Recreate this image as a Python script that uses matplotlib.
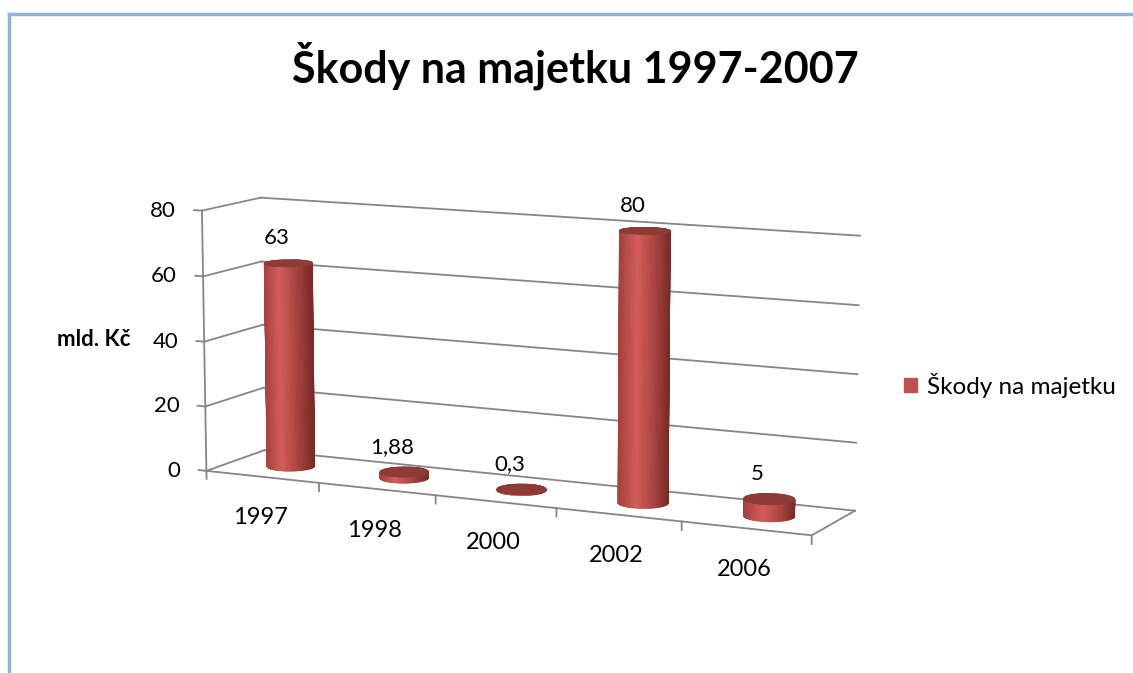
import numpy as np
import matplotlib
matplotlib.use("Agg")
import matplotlib.pyplot as plt
from matplotlib.patches import Rectangle
from matplotlib.lines import Line2D
from mpl_toolkits.mplot3d import proj3d

# ---- data ----
categories = ["1997", "1998", "2000", "2002", "2006"]
values = [63, 1.88, 0.3, 80, 5]
value_labels = ["63", "1,88", "0,3", "80", "5"]
z_ticks = [0, 20, 40, 60, 80]
series_name = "Škody na majetku"
title_text = "Škody na majetku 1997-2007"
y_label = "mld. Kč"

FONT = "Lato"
plt.rcParams['font.family'] = [FONT, 'DejaVu Sans']

W, H = 1133, 673
fig = plt.figure(figsize=(W / 100, H / 100), dpi=100)
fig.patch.set_facecolor("white")

# slide border (light blue)
fig.add_artist(Line2D([9 / W, 1], [1 - 13.5 / H, 1 - 13.5 / H], color="#95B3D7", lw=2.5))
fig.add_artist(Line2D([9 / W, 9 / W], [0, 1 - 13.5 / H], color="#95B3D7", lw=2.5))

# square 3D axes centred on the plot box
S = 1000
cx, cy = 508, H - 371
ax = fig.add_axes([(cx - S / 2) / W, (cy - S / 2) / H, S / W, S / H], projection="3d")
ax.patch.set_alpha(0)
ax.set_proj_type("persp", focal_length=0.6)
azim, elev = -64, 10
ax.view_init(elev=elev, azim=azim)
ax.set_axis_off()
ax.computed_zorder = False

n = len(categories)
x0, x1 = -0.5, n - 0.5
y0, y1 = 0.0, 0.88
yc = 0.44
z0, z1 = 0, max(z_ticks)
ax.set_xlim(x0, x1)
ax.set_ylim(y0, y1)
ax.set_zlim(z0, z1)
ax.set_box_aspect((x1 - x0, y1 - y0, 2.03), zoom=0.71)

grid_c = "#868686"
lw = 1.3
for z in z_ticks:
    ax.plot([x0, x0], [y0, y1], [z, z], color=grid_c, lw=lw, zorder=1)
    ax.plot([x0, x1], [y1, y1], [z, z], color=grid_c, lw=lw, zorder=1)
    ax.plot([x0, x0 - 0.07], [y0, y0], [z, z], color=grid_c, lw=lw, zorder=1)
ax.plot([x0, x0], [y0, y0], [z0, z1], color=grid_c, lw=lw, zorder=1)
ax.plot([x0, x1], [y0, y0], [0, 0], color=grid_c, lw=lw, zorder=1)
ax.plot([x1, x1], [y0, y1], [0, 0], color=grid_c, lw=lw, zorder=1)
for k in range(n + 1):
    xt = x0 + k
    ax.plot([xt, xt], [y0, y0], [0, -2.5], color=grid_c, lw=lw, zorder=1)

# cylinders (front half only, shaded across the visible face)
r = 0.185
a = np.deg2rad(azim)
theta = np.linspace(a - np.pi / 2, a + np.pi / 2, 61)
right = np.array([-np.sin(a), np.cos(a)])
c_left = np.array([0.64, 0.25, 0.24])
c_hi = np.array([0.83, 0.36, 0.34])
c_dark = np.array([0.47, 0.16, 0.15])
cap_c = "#8E3B38"
tm = 0.5 * (theta[:-1] + theta[1:])
u = np.cos(tm) * right[0] + np.sin(tm) * right[1]
cols = np.stack([np.interp(u, [-1, -0.3, 1], [c_left[j], c_hi[j], c_dark[j]]) for j in range(3)], axis=1)
theta_full = np.linspace(0, 2 * np.pi, 121)

for i, v in enumerate(values):
    TH, ZZ = np.meshgrid(theta, np.array([0.0, v]))
    body = ax.plot_surface(i + r * np.cos(TH), yc + r * np.sin(TH), ZZ, facecolors=cols[None, :, :],
                           shade=False, linewidth=0, antialiased=True,
                           rstride=1, cstride=1, zorder=3)
    body.set_edgecolor(cols)
    body.set_linewidth(0.6)
    R, TH2 = np.meshgrid(np.linspace(0, r, 2), theta_full)
    cap = ax.plot_surface(i + R * np.cos(TH2), yc + R * np.sin(TH2), np.full_like(R, v),
                          color=cap_c, shade=False, linewidth=0, antialiased=True,
                          rstride=1, cstride=1, zorder=4)
    cap.set_edgecolor(cap_c)
    cap.set_linewidth(0.6)

fig.canvas.draw()


def to_px(x, y, z):
    xs, ys, _ = proj3d.proj_transform(np.array([x]), np.array([y]), np.array([z]), ax.M)
    return ax.transData.transform((xs[0], ys[0]))


def put(x, y, z, s, dx, dy, **kw):
    px, py = to_px(x, y, z)
    fig.text((px + dx) / W, (py + dy) / H, s, **kw)


for z in z_ticks:
    put(x0, y0, z, str(z), -26, 0, ha="right", va="center", fontsize=16)
for i, c in enumerate(categories):
    put(i, y0, 0, c, -2, -41, ha="center", va="center", fontsize=17)
for i, v in enumerate(values):
    put(i, yc, v, value_labels[i], -12, 25, ha="center", va="center", fontsize=16)

# title
fig.text(575 / W, 1 - 66 / H, title_text, ha="center", va="center",
         fontsize=31, fontweight="bold")
# axis title
fig.text(94 / W, 1 - 339 / H, y_label, ha="center", va="center",
         fontsize=16, fontweight="bold")

# legend
fig.legend(handles=[Rectangle((0, 0), 1, 1, color="#C0504D")], labels=[series_name],
           loc="center left", bbox_to_anchor=(882 / W, 1 - 385 / H), frameon=False,
           fontsize=17.5, handlelength=0.55, handleheight=0.55, handletextpad=0.4)

fig.savefig("out.png", dpi=100, facecolor="white")
